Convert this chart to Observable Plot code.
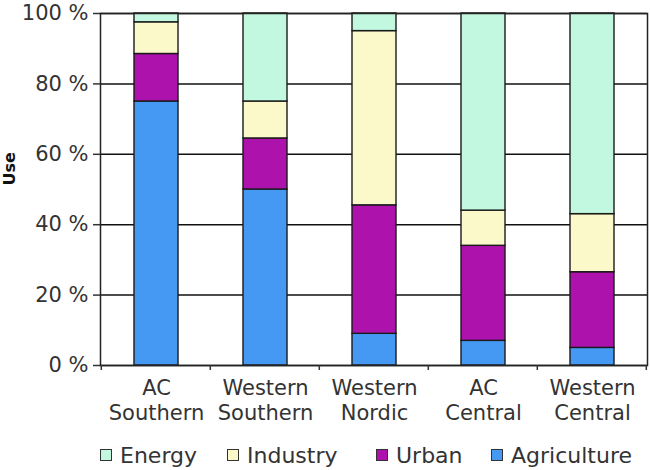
<!DOCTYPE html>
<html>
<head>
<meta charset="utf-8">
<script src="https://cdn.jsdelivr.net/npm/d3@7"></script>
<script src="https://cdn.jsdelivr.net/npm/@observablehq/plot@0.6"></script>
<style>
  html, body { margin: 0; padding: 0; background: #fff; }
  body { width: 650px; height: 470px; overflow: hidden; position: relative; font-family: "DejaVu Sans", sans-serif; }
  #legend { position: absolute; left: 0; top: 440px; width: 650px; height: 30px; font-size: 22px; color: #333; }
  .item { position: absolute; top: 0; display: flex; align-items: center; height: 30px; }
  .sw { width: 10px; height: 10px; border: 1.5px solid #333; margin-right: 8px; }
</style>
</head>
<body>
<div id="chart"></div>
<div id="legend"></div>
<script>
const categories = ["AC Southern", "Western Southern", "Western Nordic", "AC Central", "Western Central"];
const agriculture = [75, 50, 9, 7, 5];
const urban = [13.5, 14.5, 36.5, 27, 21.5];
const industry = [9, 10.5, 49.5, 10, 16.5];
const energy = [2.5, 25, 5, 56, 57];
const seriesNames = ["Agriculture", "Urban", "Industry", "Energy"];
const legendOrder = ["Energy", "Industry", "Urban", "Agriculture"];
const colors = ["#4699f3", "#ad12ad", "#fbf9c9", "#c2f8e0"];
const yTicks = [0, 20, 40, 60, 80, 100];

const seriesValues = [agriculture, urban, industry, energy];
const data = [];
categories.forEach((c, i) => {
  seriesNames.forEach((s, j) => data.push({category: c, series: s, value: seriesValues[j][i]}));
});

const chart = Plot.plot({
  width: 650,
  height: 432,
  marginTop: 13,
  marginBottom: 67,
  marginLeft: 100,
  marginRight: 3,
  style: {fontFamily: "'DejaVu Sans', sans-serif", color: "#333", background: "#fff"},
  x: {domain: categories, paddingInner: 0.6, paddingOuter: 0.3, label: null},
  y: {domain: [0, 100], label: null},
  color: {domain: seriesNames, range: colors},
  marks: [
    Plot.ruleY(yTicks, {stroke: "#111", strokeWidth: 1.5}),
    Plot.barY(data, Plot.stackY({
      x: "category", y: "value", fill: "series",
      order: seriesNames,
      stroke: "#1a1a1a", strokeWidth: 1.4
    })),
    Plot.frame({stroke: "#222", strokeWidth: 1.5}),
    Plot.axisY(yTicks, {
      tickFormat: d => d + " %", fontSize: 21, tickSize: 7, tickPadding: 5, label: null, stroke: "#333", strokeWidth: 1.5
    }),
    Plot.axisX({
      tickFormat: d => d.replace(" ", "\n"), fontSize: 21, lineHeight: 1.21,
      tickSize: 0, tickPadding: 11, label: null
    }),
    Plot.text(["Use"], {frameAnchor: "left", dx: -91, dy: -4, rotate: -90, fontWeight: "bold", fontSize: 16, fill: "#111"})
  ]
});
document.getElementById("chart").appendChild(chart);

// category boundary tick marks below x axis
{
  const svg = d3.select(chart);
  const x = chart.scale("x");
  const y = chart.scale("y");
  const y0 = y.apply(0);
  const step = x.step;
  const left = x.apply(categories[0]) - step * x.paddingOuter;
  const g = svg.append("g");
  for (let i = 0; i <= categories.length; i++) {
    const xx = left + i * step;
    g.append("line").attr("x1", xx).attr("x2", xx).attr("y1", y0).attr("y2", y0 + 5)
      .attr("stroke", "#333").attr("stroke-width", 1.5);
  }
}

const legendX = {Energy: 100, Industry: 227, Urban: 376, Agriculture: 491};
const legend = document.getElementById("legend");
legendOrder.forEach(name => {
  const it = document.createElement("div");
  it.className = "item";
  it.style.left = legendX[name] + "px";
  const sw = document.createElement("div");
  sw.className = "sw";
  sw.style.background = colors[seriesNames.indexOf(name)];
  const t = document.createElement("span");
  t.textContent = name;
  it.appendChild(sw); it.appendChild(t);
  legend.appendChild(it);
});
</script>
</body>
</html>
